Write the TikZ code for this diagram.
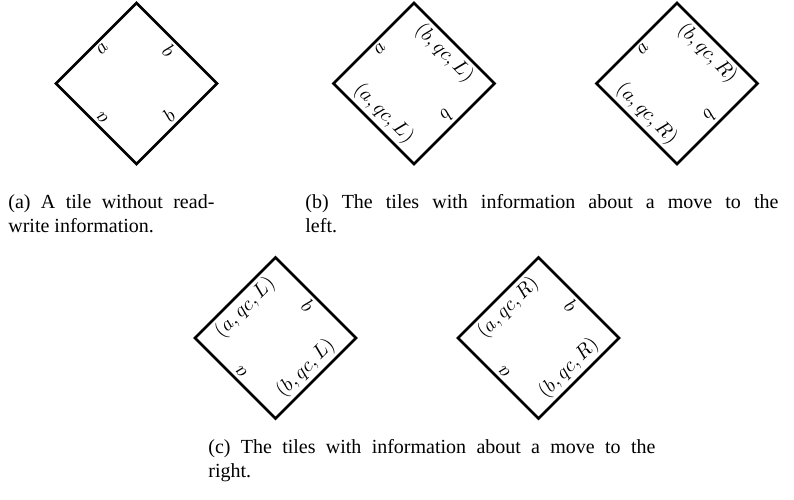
\documentclass[tikz,border=0pt]{standalone}
\usepackage[no-math]{fontspec}
\setmainfont{Liberation Serif}
\usetikzlibrary{positioning}

% labels on the four sides of a tile: name, angle, top, right, bottom, left
\newcommand{\tilesides}[6]{%
  \node[side, rotate=#2, anchor=north] (#1-top) at (#1.north) {$#3$};
  \node[side, rotate=#2-90, anchor=north] (#1-right) at (#1.east) {$#4$};
  \node[side, rotate=#2, anchor=south] (#1-bottom) at (#1.south) {$#5$};
  \node[side, rotate=#2+90, anchor=north] (#1-left) at (#1.west) {$#6$};
}

\begin{document}
\begin{tikzpicture}[
    x=0.5pt, y=0.5pt,
    tile/.style={draw, line width=1.3pt, minimum size=56.9pt, inner sep=0pt},
    side/.style={inner sep=2.5pt},
    caption/.style={anchor=north west, inner sep=0pt, align=justify},
]
\useasboundingbox (0,0) rectangle (794,499);

% Top row
\node[tile, rotate=45] (plain) at (136.5,415.5) {};
\node[tile, rotate=-45] (leftL) at (414,415.5) {};
\node[tile, rotate=-45] (leftR) at (677,415.5) {};
\tilesides{plain}{45}{a}{b}{b}{a}
\tilesides{leftL}{-45}{(b,qc,L)}{b}{(a,qc,L)}{a}
\tilesides{leftR}{-45}{(b,qc,R)}{b}{(a,qc,R)}{a}

% Bottom row
\node[tile, rotate=45] (rightL) at (275.5,161) {};
\node[tile, rotate=45] (rightR) at (538.5,161) {};
\tilesides{rightL}{45}{(a,qc,L)}{b}{(b,qc,L)}{a}
\tilesides{rightR}{45}{(a,qc,R)}{b}{(b,qc,R)}{a}

% Captions
\node[caption, text width=103pt] (capa) at (8,305)
    {(a) A tile without read-\linebreak write information.};
\node[caption, text width=236.5pt] (capb) at (305,305)
    {(b) The tiles with information about a move to the\linebreak left.};
\node[caption, text width=223.5pt] (capc) at (208,60)
    {(c) The tiles with information about a move to the\linebreak right.};
\end{tikzpicture}
\end{document}
